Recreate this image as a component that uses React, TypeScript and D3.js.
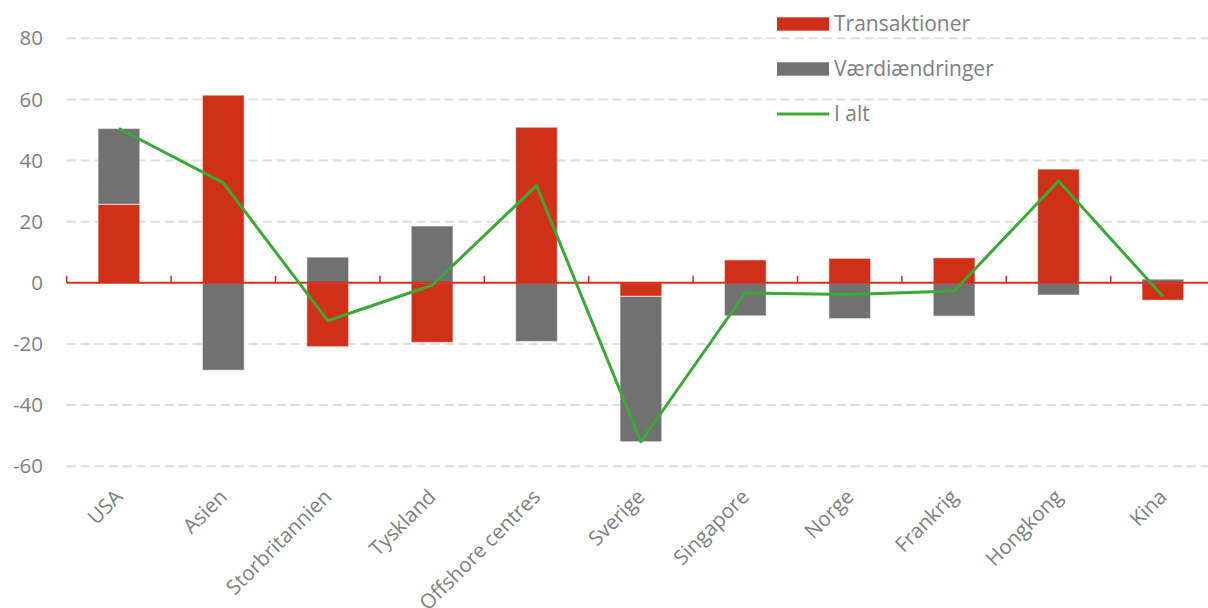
import React, { useEffect, useRef } from "react";
import * as d3 from "d3";

// data
const categories = [
  "USA", "Asien", "Storbritannien", "Tyskland", "Offshore centres", "Sverige",
  "Singapore", "Norge", "Frankrig", "Hongkong", "Kina",
];
const transaktioner = [25.7, 61.4, -20.9, -19.5, 50.9, -4.45, 7.5, 8.0, 8.2, 37.2, -5.7];
const vaerdiaendringer = [24.8, -28.6, 8.4, 18.6, -19.2, -47.55, -10.8, -11.7, -10.9, -4.0, 1.2];
const iAlt = [50.5, 32.7, -12.4, -0.8, 31.8, -52, -3.3, -3.8, -2.7, 33.3, -4.4];
const yTicks = [-60, -40, -20, 0, 20, 40, 60, 80];
const seriesNames = ["Transaktioner", "Værdiændringer", "I alt"];

const RED = "#d03018";
const GREY = "#717171";
const GREEN = "#3aa935";
const TEXT = "#7f7f7f";
const FONT = "'Open Sans', sans-serif";

export default function App() {
  const ref = useRef<SVGSVGElement>(null);

  useEffect(() => {
    const svg = d3.select(ref.current);
    const W = 1208;
    const left = 66.7, band = 104.4;

    const x = d3
      .scaleBand()
      .domain(categories)
      .range([left, left + band * categories.length])
      .paddingInner(0.6)
      .paddingOuter(0.3);

    const y = d3.scaleLinear().domain([-60, 80]).range([466.2, 38.3]);

    const g = svg.selectAll(".plot").data([0]).join("g").attr("class", "plot");

    // gridlines
    g.selectAll(".grid")
      .data(yTicks.filter((d) => d !== 0))
      .join("line")
      .attr("class", "grid")
      .attr("x1", left)
      .attr("x2", W)
      .attr("y1", (d) => y(d))
      .attr("y2", (d) => y(d))
      .attr("stroke", "#dedede")
      .attr("stroke-width", 2)
      .attr("stroke-dasharray", "9,5");

    // y labels
    g.selectAll(".ylab")
      .data(yTicks)
      .join("text")
      .attr("class", "ylab")
      .attr("x", 43)
      .attr("y", (d) => y(d))
      .attr("dy", "0.35em")
      .attr("text-anchor", "end")
      .attr("fill", TEXT)
      .style("font-family", FONT)
      .style("font-size", "20.5px")
      .text((d) => d);

    // stacked bars
    const rows = categories.map((c, i) => ({
      cat: c,
      Transaktioner: transaktioner[i],
      Værdiændringer: vaerdiaendringer[i],
    }));
    const stack = d3
      .stack<any>()
      .keys(["Transaktioner", "Værdiændringer"])
      .offset(d3.stackOffsetDiverging);
    const layers = stack(rows);
    const colors = [RED, GREY];

    g.selectAll(".layer")
      .data(layers)
      .join("g")
      .attr("class", "layer")
      .attr("fill", (d, i) => colors[i])
      .selectAll("rect")
      .data((d) => d)
      .join("rect")
      .attr("x", (d) => x(d.data.cat)!)
      .attr("width", x.bandwidth())
      .attr("y", (d) => y(Math.max(d[0], d[1])))
      .attr("height", (d) => Math.abs(y(d[0]) - y(d[1])))
      .attr("stroke", "rgba(255,255,255,0.5)")
      .attr("stroke-width", 1.2);

    // zero axis with ticks at category boundaries
    const y0 = y(0);
    g.selectAll(".zero")
      .data([0])
      .join("line")
      .attr("class", "zero")
      .attr("x1", left)
      .attr("x2", W)
      .attr("y1", y0)
      .attr("y2", y0)
      .attr("stroke", RED)
      .attr("stroke-width", 2);
    g.selectAll(".tick")
      .data(d3.range(categories.length + 1))
      .join("line")
      .attr("class", "tick")
      .attr("x1", (d) => left + d * band)
      .attr("x2", (d) => left + d * band)
      .attr("y1", y0 - 7)
      .attr("y2", y0)
      .attr("stroke", RED)
      .attr("stroke-width", 1.5);

    // total line
    const line = d3
      .line<number>()
      .x((d, i) => x(categories[i])! + x.bandwidth() / 2)
      .y((d) => y(d));
    g.selectAll(".total")
      .data([iAlt])
      .join("path")
      .attr("class", "total")
      .attr("d", line)
      .attr("fill", "none")
      .attr("stroke", GREEN)
      .attr("stroke-width", 3)
      .attr("stroke-linejoin", "round");

    // category labels
    g.selectAll(".xlab")
      .data(categories)
      .join("text")
      .attr("class", "xlab")
      .attr("transform", (d) => `translate(${x(d)! + x.bandwidth() / 2},493) rotate(-45)`)
      .attr("dy", "0.35em")
      .attr("text-anchor", "end")
      .attr("fill", TEXT)
      .style("font-family", FONT)
      .style("font-size", "20.5px")
      .text((d) => d);

    // legend
    const legend = svg.selectAll(".legend").data([0]).join("g").attr("class", "legend")
      .attr("transform", "translate(777,24)");
    const items = legend
      .selectAll(".item")
      .data(seriesNames)
      .join("g")
      .attr("class", "item")
      .attr("transform", (d, i) => `translate(0,${i * 45})`);
    items.each(function (d, i) {
      const it = d3.select(this);
      if (i < 2) {
        it.selectAll("rect").data([0]).join("rect")
          .attr("x", 0).attr("y", -6.7).attr("width", 52).attr("height", 13.4)
          .attr("fill", colors[i]);
      } else {
        it.selectAll("line").data([0]).join("line")
          .attr("x1", 0).attr("x2", 52).attr("y1", 0).attr("y2", 0)
          .attr("stroke", GREEN).attr("stroke-width", 3);
      }
      it.selectAll("text").data([d]).join("text")
        .attr("x", 57)
        .attr("y", 0)
        .attr("dy", "0.35em")
        .attr("fill", TEXT)
        .style("font-family", FONT)
        .style("font-size", "21px")
        .text(d);
    });
  }, []);

  return (
    <svg
      ref={ref}
      width={1208}
      height={608}
      style={{ position: "absolute", left: 0, top: 0, display: "block", background: "#fff" }}
    />
  );
}
